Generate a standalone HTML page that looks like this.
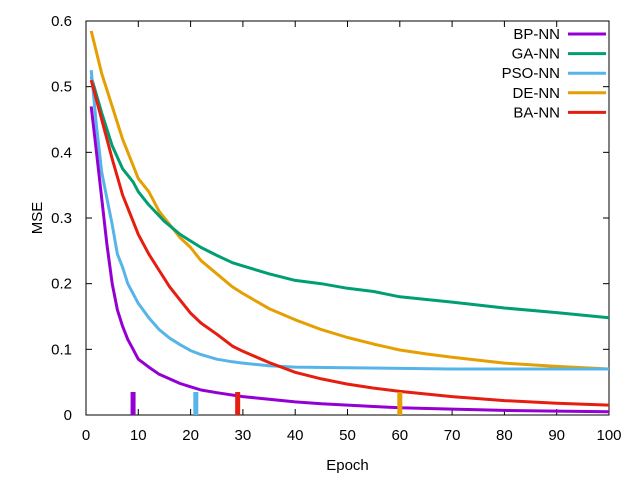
<!DOCTYPE html>
<html><head><meta charset="utf-8"><style>body{margin:0;background:#fff}svg text{font-family:"Liberation Sans",sans-serif;font-size:15px;fill:#000}</style></head>
<body>
<svg id="c" width="640" height="480"></svg>
<script>
const xTicks=[0,10,20,30,40,50,60,70,80,90,100];
const yTicks=[0,0.1,0.2,0.3,0.4,0.5,0.6];
const yTickLabels=["0","0.1","0.2","0.3","0.4","0.5","0.6"];
const seriesNames=["BP-NN","GA-NN","PSO-NN","DE-NN","BA-NN"];
const seriesColors=["#9400d3","#009e73","#56b4e9","#e69f00","#e51e10"];
const bpX=[1,2,3,4,5,6,7,8,9,10,12,14,16,18,20,22,25,30,35,40,45,50,55,60,70,80,90,100];
const bpY=[0.47,0.40,0.33,0.26,0.20,0.16,0.135,0.115,0.10,0.085,0.073,0.062,0.055,0.048,0.043,0.038,0.034,0.028,0.024,0.020,0.017,0.015,0.013,0.011,0.009,0.007,0.006,0.005];
const gaX=[1,3,5,7,9,10,12,15,18,20,22,25,28,30,35,40,45,50,55,60,70,80,90,100];
const gaY=[0.515,0.46,0.41,0.375,0.355,0.34,0.32,0.295,0.275,0.265,0.255,0.243,0.232,0.227,0.215,0.205,0.200,0.193,0.188,0.18,0.172,0.163,0.156,0.148];
const psoX=[1,2,3,4,5,6,7,8,10,12,14,16,18,20,22,25,28,30,35,40,50,60,70,100];
const psoY=[0.525,0.44,0.37,0.33,0.29,0.245,0.225,0.20,0.17,0.148,0.13,0.117,0.107,0.098,0.092,0.085,0.081,0.079,0.075,0.073,0.072,0.071,0.070,0.070];
const deX=[1,3,5,7,9,10,12,14,16,18,20,22,25,28,30,35,40,45,50,55,60,65,70,80,90,100];
const deY=[0.585,0.52,0.47,0.42,0.38,0.36,0.34,0.31,0.29,0.27,0.255,0.235,0.215,0.195,0.185,0.162,0.145,0.13,0.118,0.108,0.099,0.093,0.088,0.079,0.074,0.070];
const baX=[1,3,5,7,9,10,12,14,16,18,20,22,25,28,30,35,40,45,50,55,60,70,80,90,100];
const baY=[0.51,0.45,0.39,0.335,0.295,0.275,0.245,0.22,0.195,0.175,0.155,0.14,0.123,0.105,0.097,0.08,0.065,0.055,0.047,0.041,0.036,0.028,0.022,0.018,0.015];
const markerX=[9,21,29,60];
const markerSeries=[0,2,4,3];
const markerHeight=0.035;

const L=86,R=609,T=21,B=415;
const sx=v=>L+(v-0)/(100-0)*(R-L);
const sy=v=>B-(v-0)/(0.6-0)*(B-T);
const svg=document.getElementById('c');
const NS='http://www.w3.org/2000/svg';
function mk(tag,attrs,parent){const e=document.createElementNS(NS,tag);for(const k in attrs)e.setAttribute(k,attrs[k]);(parent||svg).appendChild(e);return e;}

const frame=mk('rect',{x:L,y:T,width:R-L,height:B-T,fill:'none',stroke:'#000','stroke-width':1});



xTicks.forEach(v=>{
  const x=sx(v);
  const t1=mk('line',{x1:x,y1:B,x2:x,y2:B-6,stroke:'#000'});
  
  
  const t2=mk('line',{x1:x,y1:T,x2:x,y2:T+6,stroke:'#000'});
  
  
  const tx=mk('text',{x:x,y:440,'text-anchor':'middle'});tx.textContent=v;
  
  
});
yTicks.forEach((v,i)=>{
  const y=sy(v);
  const t1=mk('line',{x1:L,y1:y,x2:L+6,y2:y,stroke:'#000'});
  
  
  const t2=mk('line',{x1:R,y1:y,x2:R-6,y2:y,stroke:'#000'});
  
  
  const tx=mk('text',{x:72,y:y+5,'text-anchor':'end'});tx.textContent=yTickLabels[i];
  
  
});
const xt=mk('text',{x:(L+R)/2,y:470,'text-anchor':'middle'});xt.textContent='Epoch';


const yt=mk('text',{x:42,y:218,'text-anchor':'middle',transform:'rotate(-90 42 218)'});yt.textContent='MSE';



const allX=[bpX,gaX,psoX,deX,baX],allY=[bpY,gaY,psoY,deY,baY];
const slugs=['bp-nn','ga-nn','pso-nn','de-nn','ba-nn'];
[3,1,2,4,0].forEach(i=>{
  const pts=allX[i].map((x,j)=>sx(x).toFixed(1)+','+sy(allY[i][j]).toFixed(1)).join(' ');
  const p=mk('polyline',{points:pts,fill:'none',stroke:seriesColors[i],'stroke-width':3,'stroke-linejoin':'round'});
  
  
});
markerX.forEach((m,k)=>{
  const r=mk('rect',{x:sx(m)-2.5,y:sy(markerHeight),width:5,height:sy(0)-sy(markerHeight),fill:seriesColors[markerSeries[k]]});
  
  
});
seriesNames.forEach((n,i)=>{
  const y=34+i*19.6;
  const g=mk('g',{});
  
  
  const t=mk('text',{x:560,y:y+5,'text-anchor':'end'},g);t.textContent=n;
  mk('line',{x1:568,y1:y,x2:606,y2:y,stroke:seriesColors[i],'stroke-width':3},g);
});
</script>
</body></html>
